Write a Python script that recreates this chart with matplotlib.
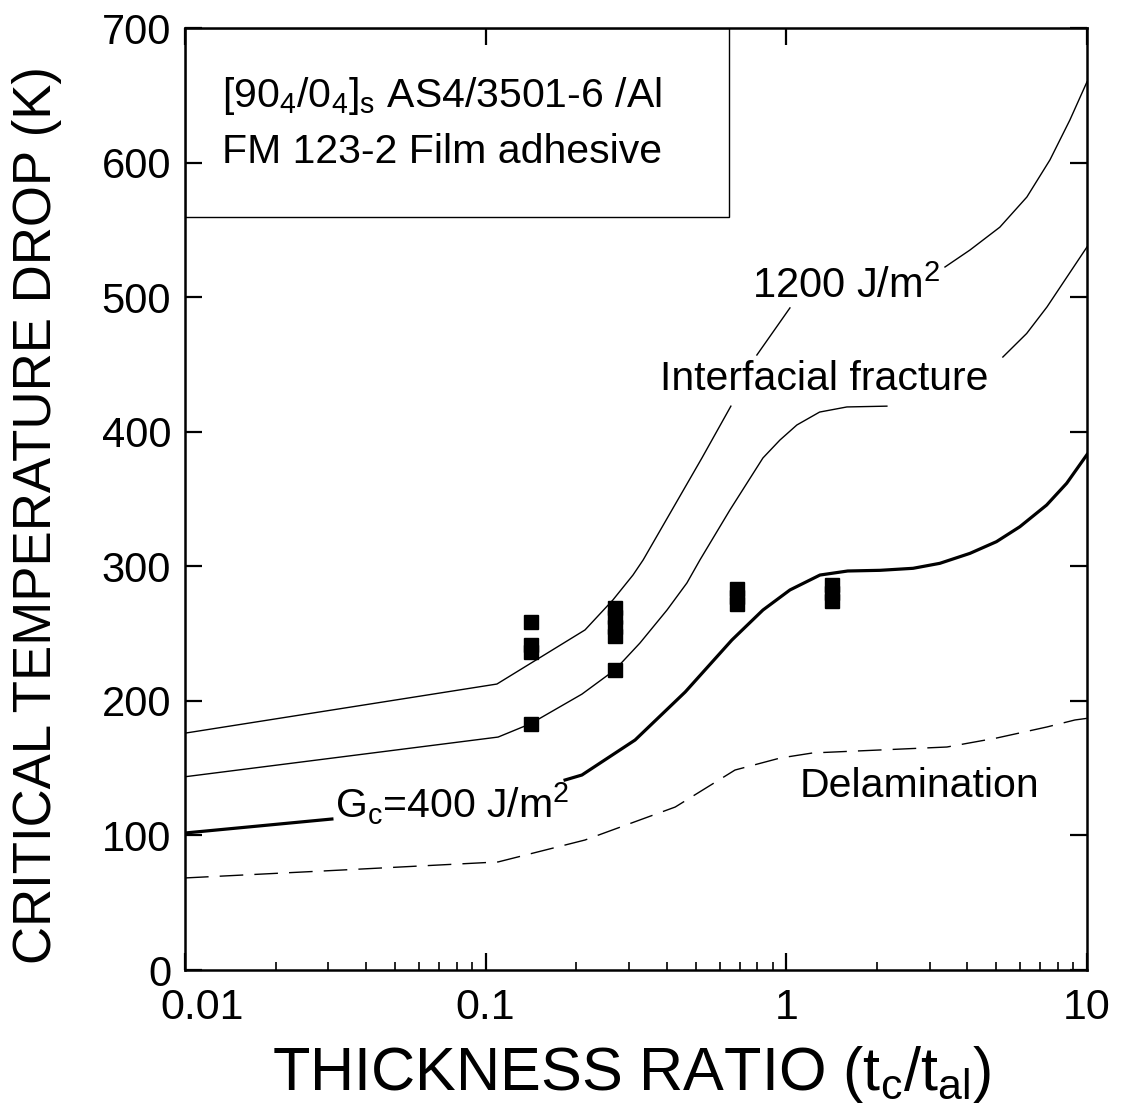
import numpy as np
import matplotlib
matplotlib.use("Agg")
import matplotlib.pyplot as plt
from matplotlib import font_manager
from matplotlib.patches import Rectangle
from matplotlib.ticker import FixedLocator, FixedFormatter, LogLocator, NullFormatter
import matplotlib.transforms as mtransforms

names = {f.name for f in font_manager.fontManager.ttflist}
FONT = 'Liberation Sans' if 'Liberation Sans' in names else 'DejaVu Sans'
plt.rcParams['font.family'] = [FONT, 'DejaVu Sans']
plt.rcParams['mathtext.fontset'] = 'custom'
plt.rcParams['mathtext.rm'] = FONT
plt.rcParams['mathtext.it'] = FONT

# ---------------- data ----------------
# G = 1200 J/m^2 curve (segments interrupted by labels)
g1200_a_x = [0.01, 0.109, 0.214, 0.265, 0.309, 0.334, 0.524, 0.654]
g1200_a_y = [176, 212.5, 252.7, 275, 293.5, 304.7, 380.5, 419]
g1200_b_x = [0.798, 1.028]
g1200_b_y = [457, 492]
g1200_c_x = [3.37, 4.08, 5.13, 6.31, 7.53, 8.77, 10]
g1200_c_y = [522.4, 535, 552, 574.4, 602, 631.6, 660]

# intermediate G curve
gmid_a_x = [0.01, 0.110, 0.141, 0.209, 0.269, 0.326, 0.401, 0.467, 0.516, 0.649,
            0.836, 0.952, 1.084, 1.29, 1.59, 2.16]
gmid_a_y = [143.6, 173.1, 183, 205, 223, 243, 267.5, 287.6, 304.7, 341.8,
            380.5, 393.8, 405, 414.6, 418.4, 419]
gmid_b_x = [5.25, 6.3, 7.36, 10]
gmid_b_y = [455.5, 473, 492.7, 537.3]

# G = 400 J/m^2 curve (thick)
g400_a_x = [0.01, 0.0308]
g400_a_y = [101.8, 112.2]
g400_b_x = [0.1837, 0.209, 0.314, 0.461, 0.659, 0.836, 1.028, 1.294, 1.6, 2.05,
            2.64, 3.24, 4.08, 5.0, 5.98, 7.34, 8.56, 10]
g400_b_y = [141.2, 144.9, 170.9, 206.6, 245.2, 267.5, 282.4, 293.5, 296.5, 297,
            298.5, 302.2, 309.6, 318.3, 329.4, 345.5, 361.7, 383]

# delamination (dashed)
delam_x = [0.01, 0.0333, 0.110, 0.214, 0.427, 0.675, 0.953, 1.224, 2.05, 3.42,
           5.01, 7.36, 9.12, 10]
delam_y = [68.4, 74.3, 80.3, 96.6, 121.1, 148.6, 157.5, 161.3, 163.5, 165.7,
           172.4, 180.6, 185.8, 187]

# experimental data
exp_x = [0.1416, 0.1416, 0.1416, 0.1416,
         0.269, 0.269, 0.269, 0.269, 0.269,
         0.686, 0.686, 0.686,
         1.42, 1.42, 1.42]
exp_y = [258.6, 241.5, 236.3, 182.8,
         269, 262, 255, 248, 223,
         283, 277, 272,
         286, 280, 274]

xticks = [0.01, 0.1, 1, 10]
xticklabels = ['0.01', '0.1', '1', '10']
yticks = [0, 100, 200, 300, 400, 500, 600, 700]
yticklabels = ['0', '100', '200', '300', '400', '500', '600', '700']

# ---------------- figure ----------------
W, H = 1121, 1114
fig = plt.figure(figsize=(W / 100, H / 100), dpi=100)
L, R, B, T = 185, 1087, 970, 28
ax = fig.add_axes([L / W, 1 - B / H, (R - L) / W, (B - T) / H])

thin = 1.0
ax.plot(g1200_a_x, g1200_a_y, color='black', lw=thin)
ax.plot(g1200_b_x, g1200_b_y, color='black', lw=thin)
ax.plot(g1200_c_x, g1200_c_y, color='black', lw=thin)
ax.plot(gmid_a_x, gmid_a_y, color='black', lw=thin)
ax.plot(gmid_b_x, gmid_b_y, color='black', lw=thin)
ax.plot(g400_a_x, g400_a_y, color='black', lw=2.3)
ax.plot(g400_b_x, g400_b_y, color='black', lw=2.3)
ax.plot(delam_x, delam_y, color='black', lw=1.0, dashes=(17, 8))
ax.plot(exp_x, exp_y, linestyle='none', marker='s', ms=10, color='black', mec='black')

ax.set_xscale('log')
ax.set_xlim(0.01, 10)
ax.set_ylim(0, 700)

ax.xaxis.set_major_locator(FixedLocator(xticks))
ax.xaxis.set_major_formatter(NullFormatter())
ax.xaxis.set_minor_locator(LogLocator(base=10, subs=np.arange(2, 10)))
ax.xaxis.set_minor_formatter(NullFormatter())
ax.yaxis.set_major_locator(FixedLocator(yticks))
ax.yaxis.set_major_formatter(FixedFormatter(yticklabels))

ax.tick_params(which='major', direction='in', length=12, width=1.6,
               labelsize=30, top=True, right=True)
ax.tick_params(which='minor', direction='in', length=6, width=1.2,
               top=False, right=False)
ax.tick_params(axis='y', which='major', pad=10)
for s in ax.spines.values():
    s.set_linewidth(1.8)

# x tick labels (first one nudged right, as in the original)
blend = mtransforms.blended_transform_factory(ax.transData, ax.transAxes)
for xv, lab in zip(xticks, xticklabels):
    dx = 17 / 72 if lab == '0.01' else 0
    tr = blend + mtransforms.ScaledTranslation(dx * 0.72, -13 / 72, fig.dpi_scale_trans)
    ax.text(xv, 0, lab, transform=tr, ha='center', va='top', fontsize=31)

# legend-like box
ax.add_patch(Rectangle((0, 0.7994), 0.603, 0.2006, transform=ax.transAxes,
                       fill=False, edgecolor='black', lw=1.0, zorder=3))
fs = 29.5
ax.text(0.01327, 641, r'[90$_4$/0$_4$]$_\mathrm{s}$ AS4/3501-6 /Al', fontsize=fs,
        ha='left', va='baseline')
ax.text(0.01327, 600, 'FM 123-2 Film adhesive', fontsize=fs, ha='left', va='baseline')

ax.text(0.768, 499, r'1200 J/m$^2$', fontsize=30, ha='left', va='baseline')
ax.text(0.380, 431, 'Interfacial fracture', fontsize=fs, ha='left', va='baseline')
ax.text(1.11, 128.6, 'Delamination', fontsize=fs, ha='left', va='baseline')
ax.text(0.0316, 113, r'G$_\mathrm{c}$=400 J/m$^2$', fontsize=fs, ha='left', va='baseline')

fig.text(37.5 / W, 1 - 515 / H, 'CRITICAL TEMPERATURE DROP (K)', rotation=90,
         ha='center', va='center', fontsize=38)
fig.text(632 / W, 1 - 1090 / H, r'THICKNESS RATIO (t$_\mathrm{c}$/t$_\mathrm{al}$)',
         ha='center', va='baseline', fontsize=44)

fig.savefig('out.png', dpi=100)
